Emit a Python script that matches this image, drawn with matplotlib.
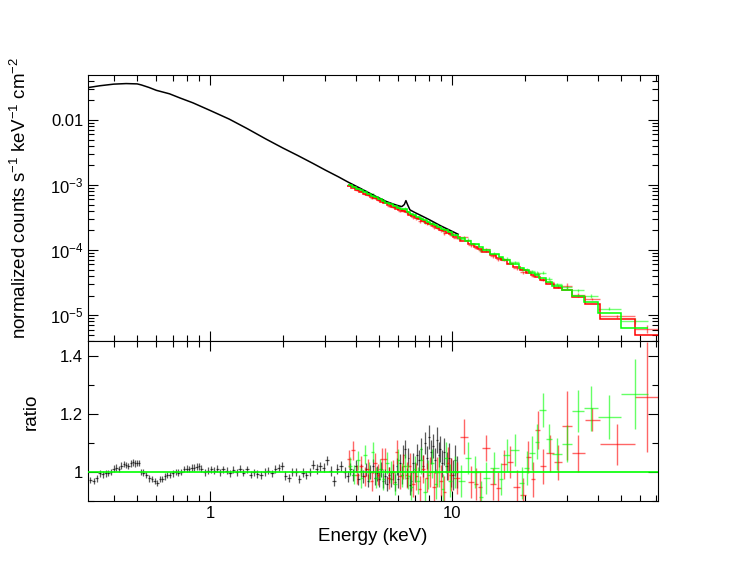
import numpy as np
import matplotlib
matplotlib.use('Agg')
import matplotlib.pyplot as plt
from matplotlib.ticker import FixedLocator, FuncFormatter, LogLocator, MultipleLocator, NullFormatter

plt.rcParams['font.family'] = ['Liberation Sans', 'DejaVu Sans']
plt.rcParams['mathtext.fontset'] = 'custom'
plt.rcParams['mathtext.rm'] = 'Liberation Sans'
plt.rcParams['mathtext.it'] = 'Liberation Sans:italic'

# black dataset: model curve (top panel)
black_model_e = [0.313, 0.35, 0.40, 0.45, 0.50, 0.52, 0.56, 0.60, 0.68, 0.75, 0.85, 1.0, 1.2, 1.42,
                 1.7, 2.0, 2.3, 2.66, 3.0, 3.4, 3.7, 4.2, 4.8, 5.4, 5.9, 6.2, 6.35, 6.45, 6.55, 6.7,
                 7.0, 7.5, 8.1, 9.0, 10.1, 10.6]
black_model_f = [0.0314, 0.0335, 0.0355, 0.0362, 0.0358, 0.0345, 0.0315, 0.0285, 0.0252, 0.0218,
                 0.0183, 0.0140, 0.0103, 0.0074, 0.0051, 0.0037, 0.00285, 0.00215, 0.00169,
                 0.00133, 0.00112, 0.00088, 0.00068, 0.00055, 0.00049, 0.000465, 0.00050,
                 0.000575, 0.00050, 0.000415, 0.00038, 0.000335, 0.00029, 0.000235, 0.000191,
                 0.000175]

# black dataset: ratio points
black_e = [0.32, 0.33, 0.34, 0.35, 0.36, 0.37, 0.38, 0.39, 0.40, 0.41,
           0.42, 0.43, 0.44, 0.45, 0.46, 0.47, 0.48, 0.49, 0.50, 0.51,
           0.52, 0.53, 0.545, 0.56, 0.575, 0.59, 0.605, 0.62, 0.635, 0.65,
           0.665, 0.68, 0.70, 0.72, 0.74, 0.76, 0.78, 0.80, 0.82, 0.84,
           0.86, 0.88, 0.90, 0.92, 0.95, 0.98, 1.01, 1.04, 1.07, 1.10,
           1.13, 1.17, 1.21, 1.25, 1.29, 1.33, 1.37, 1.42, 1.47, 1.52,
           1.57, 1.62, 1.68, 1.74, 1.80, 1.86, 1.92, 1.98, 2.05, 2.12,
           2.19, 2.26, 2.34, 2.42, 2.50, 2.58, 2.67, 2.76, 2.85, 2.95,
           3.05, 3.15, 3.25, 3.36, 3.47,
           3.6, 3.7, 3.8, 3.9, 4.0, 4.1, 4.2, 4.3, 4.4, 4.5,
           4.6, 4.7, 4.8, 4.9, 5.0, 5.1, 5.2, 5.3, 5.4, 5.5,
           5.6, 5.7, 5.8, 5.9, 6.0, 6.1, 6.2, 6.3, 6.4, 6.5,
           6.6, 6.7, 6.8, 6.9, 7.0, 7.15, 7.3, 7.45, 7.6, 7.75,
           7.9, 8.05, 8.2, 8.35, 8.5, 8.65, 8.8, 8.95, 9.1, 9.3,
           9.5, 9.7, 9.9, 10.1, 10.3, 10.5]
black_ratio = [0.972, 0.968, 0.978, 0.995, 0.992, 0.995, 0.997, 1.0, 1.012, 1.015,
               1.01, 1.022, 1.028, 1.025, 1.02, 1.03, 1.033, 1.03, 1.032, 1.031,
               1.0, 0.998, 0.99, 0.978, 0.975, 0.97, 0.962, 0.975, 0.976, 0.985,
               0.99, 0.99, 0.995, 1.0, 0.998, 1.0, 1.01, 1.012, 1.01, 1.015,
               1.014, 1.018, 1.02, 1.012, 1.0, 1.005, 1.01, 1.005, 1.012, 1.0,
               1.01, 1.005, 0.995, 1.008, 1.0, 1.012, 0.998, 1.01, 0.99, 1.0,
               0.993, 0.99, 1.0, 1.005, 0.995, 1.01, 1.015, 1.02, 0.988, 0.98,
               1.0, 1.0, 0.975, 0.998, 0.99, 1.0, 1.025, 1.01, 1.02, 1.015,
               1.04, 1.005, 0.97, 1.01, 1.02,
               1.0, 0.985, 1.01, 0.99, 1.02, 0.975, 1.005, 0.985, 1.01, 0.97,
               1.0, 1.02, 0.98, 0.995, 0.975, 1.01, 0.97, 0.985, 0.96, 0.99,
               0.975, 1.0, 0.965, 1.02, 0.975, 1.03, 0.99, 1.06, 1.08, 0.98,
               1.05, 0.955, 0.97, 1.03, 1.0, 1.06, 1.04, 1.08, 1.02, 1.1,
               1.05, 1.12, 1.07, 1.09, 1.04, 1.11, 1.06, 1.08, 1.03, 1.07,
               1.02, 1.05, 1.0, 0.99, 1.04, 1.0]
black_err = [0.011, 0.011, 0.011, 0.011, 0.011, 0.011, 0.011, 0.011, 0.011, 0.011,
             0.011, 0.011, 0.011, 0.011, 0.011, 0.011, 0.011, 0.011, 0.011, 0.011,
             0.011, 0.011, 0.011, 0.011, 0.011, 0.011, 0.011, 0.011, 0.011, 0.011,
             0.011, 0.011, 0.011, 0.011, 0.011, 0.011, 0.011, 0.011, 0.011, 0.011,
             0.012, 0.012, 0.012, 0.012, 0.012, 0.012, 0.012, 0.012, 0.012, 0.012,
             0.012, 0.012, 0.012, 0.012, 0.012, 0.012, 0.012, 0.012, 0.012, 0.012,
             0.013, 0.013, 0.013, 0.013, 0.013, 0.013, 0.013, 0.013, 0.014, 0.014,
             0.014, 0.014, 0.014, 0.015, 0.015, 0.015, 0.015, 0.016, 0.016, 0.016,
             0.017, 0.017, 0.017, 0.018, 0.018,
             0.019, 0.019, 0.02, 0.02, 0.02, 0.021, 0.021, 0.022, 0.022, 0.023,
             0.023, 0.024, 0.024, 0.025, 0.025, 0.026, 0.026, 0.027, 0.027, 0.028,
             0.028, 0.029, 0.029, 0.03, 0.03, 0.031, 0.031, 0.032, 0.032, 0.033,
             0.033, 0.034, 0.034, 0.035, 0.035, 0.036, 0.037, 0.038, 0.038, 0.039,
             0.04, 0.041, 0.041, 0.042, 0.043, 0.044, 0.044, 0.045, 0.046, 0.047,
             0.048, 0.049, 0.05, 0.051, 0.052, 0.054]

# red dataset
red_edges = [3.68, 3.82, 3.97, 4.12, 4.28, 4.43, 4.58, 4.73, 4.88, 5.03, 5.2, 5.4, 5.6, 5.8,
             6.0, 6.2, 6.4, 6.6, 6.8, 7.0, 7.22, 7.48, 7.72, 7.98, 8.25, 8.55, 8.85, 9.15,
             9.45, 9.75, 10.1, 10.8, 11.6, 12.3, 12.85, 13.3, 14.3, 15.15, 15.9, 16.8,
             17.95, 19.1, 20.2, 21.15, 22.1, 23.2, 24.5, 26.4, 28.6, 31.2, 35.3, 40.9,
             56.9, 72.2]
red_model = [9.59e-4, 8.98e-4, 8.40e-4, 7.87e-4, 7.38e-4, 6.96e-4, 6.57e-4, 6.21e-4, 5.89e-4,
             5.57e-4, 5.24e-4, 4.91e-4, 4.61e-4, 4.34e-4, 4.09e-4, 4.0e-4, 3.85e-4, 3.47e-4,
             3.30e-4, 3.13e-4, 2.95e-4, 2.79e-4, 2.63e-4, 2.48e-4, 2.34e-4, 2.20e-4, 2.07e-4,
             1.96e-4, 1.85e-4, 1.75e-4, 1.59e-4, 1.40e-4, 1.24e-4, 1.13e-4, 1.05e-4, 9.50e-5,
             8.43e-5, 7.64e-5, 6.94e-5, 6.21e-5, 5.51e-5, 4.94e-5, 4.50e-5, 4.14e-5, 3.80e-5,
             3.45e-5, 3.06e-5, 2.65e-5, 2.40e-5, 1.91e-5, 1.48e-5, 8.7e-6, 4.9e-6]
red_ratio = [1.045, 1.075, 0.99, 1.02, 0.985, 1.01, 0.97, 1.03, 0.99, 1.045,
             1.045, 0.98, 1.0, 1.07, 0.985, 1.02, 0.99, 1.02, 0.96, 0.985,
             0.94, 1.01, 0.98, 1.0, 0.95, 1.0, 0.97, 0.93, 1.03, 0.99,
             0.98, 1.122, 0.967, 0.96, 0.95, 1.082, 0.958, 0.945, 1.027, 1.035,
             0.948, 0.92, 1.053, 0.975, 1.145, 1.02, 1.064, 1.034, 1.16, 1.064,
             1.18, 1.095, 1.26]
red_err = [0.032, 0.033, 0.033, 0.034, 0.034, 0.035, 0.035, 0.036, 0.036, 0.037,
           0.038, 0.039, 0.04, 0.041, 0.042, 0.043, 0.044, 0.045, 0.046, 0.047,
           0.048, 0.049, 0.05, 0.051, 0.052, 0.053, 0.054, 0.055, 0.056, 0.057,
           0.055, 0.06, 0.055, 0.055, 0.055, 0.045, 0.055, 0.055, 0.05, 0.055,
           0.06, 0.06, 0.055, 0.06, 0.065, 0.06, 0.065, 0.06, 0.12, 0.063,
           0.04, 0.07, 0.19]

# green dataset
green_edges = [3.72, 3.86, 4.0, 4.15, 4.3, 4.46, 4.62, 4.78, 4.95, 5.12, 5.3, 5.5, 5.7, 5.9,
               6.1, 6.3, 6.5, 6.7, 6.9, 7.1, 7.35, 7.6, 7.85, 8.1, 8.4, 8.7, 9.0, 9.3, 9.65,
               10.0, 10.6, 11.3, 12.0, 12.9, 13.4, 14.3, 15.6, 16.3, 17.4, 19.0, 19.9, 20.8,
               22.0, 22.9, 24.5, 26.0, 28.6, 31.2, 35.0, 40.0, 50.1, 64.5]
green_model = [9.98e-4, 9.36e-4, 8.79e-4, 8.25e-4, 7.74e-4, 7.27e-4, 6.84e-4, 6.44e-4, 6.07e-4,
               5.72e-4, 5.37e-4, 5.04e-4, 4.74e-4, 4.47e-4, 4.3e-4, 4.25e-4, 3.9e-4, 3.59e-4,
               3.41e-4, 3.23e-4, 3.04e-4, 2.87e-4, 2.71e-4, 2.56e-4, 2.40e-4, 2.26e-4, 2.13e-4,
               2.01e-4, 1.88e-4, 1.73e-4, 1.54e-4, 1.37e-4, 1.22e-4, 1.10e-4, 9.98e-5, 8.67e-5,
               7.69e-5, 6.95e-5, 6.02e-5, 5.33e-5, 4.90e-5, 4.46e-5, 4.08e-5, 3.70e-5, 3.28e-5,
               2.84e-5, 2.45e-5, 2.0e-5, 1.6e-5, 1.06e-5, 6.4e-6]
green_ratio = [1.02, 0.99, 1.04, 0.98, 1.06, 1.0, 1.07, 0.98, 1.01, 0.975,
               1.03, 1.0, 0.96, 1.04, 0.99, 1.02, 0.985, 0.95, 1.01, 0.97,
               1.04, 0.93, 0.99, 1.03, 0.96, 1.0, 0.94, 1.05, 0.97,
               1.0, 0.97, 1.048, 1.0, 0.915, 0.98, 1.014, 0.975, 1.059, 1.076,
               0.962, 1.014, 1.066, 1.105, 1.214, 1.114, 1.061, 1.098, 1.21, 1.22,
               1.19, 1.27]
green_err = [0.032, 0.033, 0.033, 0.034, 0.034, 0.035, 0.035, 0.036, 0.036, 0.037,
             0.038, 0.039, 0.04, 0.041, 0.042, 0.043, 0.044, 0.045, 0.046, 0.047,
             0.048, 0.049, 0.05, 0.051, 0.052, 0.053, 0.054, 0.055, 0.056,
             0.055, 0.055, 0.055, 0.055, 0.055, 0.055, 0.055, 0.055, 0.055, 0.055,
             0.055, 0.058, 0.058, 0.06, 0.058, 0.05, 0.055, 0.063, 0.072, 0.078,
             0.075, 0.12]

RED = '#ff0000'
GREEN = '#00ff00'


def bins(edges):
    edges = np.asarray(edges)
    centers = np.sqrt(edges[:-1] * edges[1:])
    xerr = np.vstack([centers - edges[:-1], edges[1:] - centers])
    return edges, centers, xerr


fig = plt.figure(figsize=(7.47, 5.78), dpi=100)
ax1 = fig.add_axes([0.1178, 0.410, 0.763, 0.4602])
ax2 = fig.add_axes([0.1178, 0.1332, 0.763, 0.2768], sharex=ax1)

# black: bin half-widths from neighbouring energies
be = np.asarray(black_e)
mids = np.sqrt(be[:-1] * be[1:])
lo = np.concatenate([[be[0] ** 2 / mids[0]], mids])
hi = np.concatenate([mids, [be[-1] ** 2 / mids[-1]]])
black_xerr = np.vstack([be - lo, hi - be])

# top panel
ax1.plot(black_model_e, black_model_f, color='black', lw=1.1, zorder=3)

for edges, model, ratio, err, col in [(red_edges, red_model, red_ratio, red_err, RED),
                                      (green_edges, green_model, green_ratio, green_err, GREEN)]:
    e, c, xe = bins(edges)
    m = np.asarray(model)
    ax1.errorbar(c, m * np.asarray(ratio), xerr=xe, yerr=m * np.asarray(err), fmt='none',
                 ecolor=col, elinewidth=1.0, alpha=0.55, zorder=2)
    ax1.stairs(m, e, baseline=None, color=col, lw=1.1, zorder=4)
    ax2.errorbar(c, ratio, xerr=xe, yerr=err, fmt='none', ecolor=col, elinewidth=1.0,
                 alpha=0.6, zorder=2)

ax2.errorbar(black_e, black_ratio, xerr=black_xerr, yerr=black_err, fmt='none',
             ecolor='black', elinewidth=0.9, alpha=0.65, zorder=1)
ax2.axhline(1.0, color=GREEN, lw=1.2, zorder=5)

ax1.set_xscale('log')
ax1.set_yscale('log')
ax1.set_xlim(0.313, 71)
ax1.set_ylim(4.0e-6, 0.049)
ax2.set_ylim(0.9, 1.452)


def yfmt(v, pos):
    if abs(v - 0.01) < 1e-9:
        return '0.01'
    return r'$10^{%d}$' % int(round(np.log10(v)))


ax1.yaxis.set_major_locator(FixedLocator([1e-5, 1e-4, 1e-3, 1e-2]))
ax1.yaxis.set_major_formatter(FuncFormatter(yfmt))
ax1.yaxis.set_minor_locator(LogLocator(base=10, subs=np.arange(2, 10), numticks=20))
ax1.yaxis.set_minor_formatter(NullFormatter())

ax2.xaxis.set_major_locator(FixedLocator([1, 10]))
ax2.xaxis.set_major_formatter(FuncFormatter(lambda v, p: '%g' % v))
ax2.xaxis.set_minor_locator(LogLocator(base=10, subs=np.arange(2, 10), numticks=20))
ax2.xaxis.set_minor_formatter(NullFormatter())
ax2.yaxis.set_major_locator(FixedLocator([1.0, 1.2, 1.4]))
ax2.yaxis.set_major_formatter(FuncFormatter(lambda v, p: '%g' % v))
ax2.yaxis.set_minor_locator(MultipleLocator(0.1))

for ax in (ax1, ax2):
    ax.tick_params(which='both', direction='in', top=True, right=True, labelsize=12,
                   width=0.8, color='black')
    ax.tick_params(which='major', length=7)
    ax.tick_params(which='minor', length=4)
    for s in ax.spines.values():
        s.set_linewidth(0.8)
ax1.tick_params(labelbottom=False)

ax1.set_ylabel('normalized counts s$^{-1}$ keV$^{-1}$ cm$^{-2}$', fontsize=13.5)
ax1.yaxis.set_label_coords(-0.102, 0.538)
ax2.set_ylabel('ratio', fontsize=13.5)
ax2.yaxis.set_label_coords(-0.084, 0.556)
ax2.set_xlabel('Energy (keV)', fontsize=13.5, labelpad=5)

fig.savefig('out.png', dpi=100)
